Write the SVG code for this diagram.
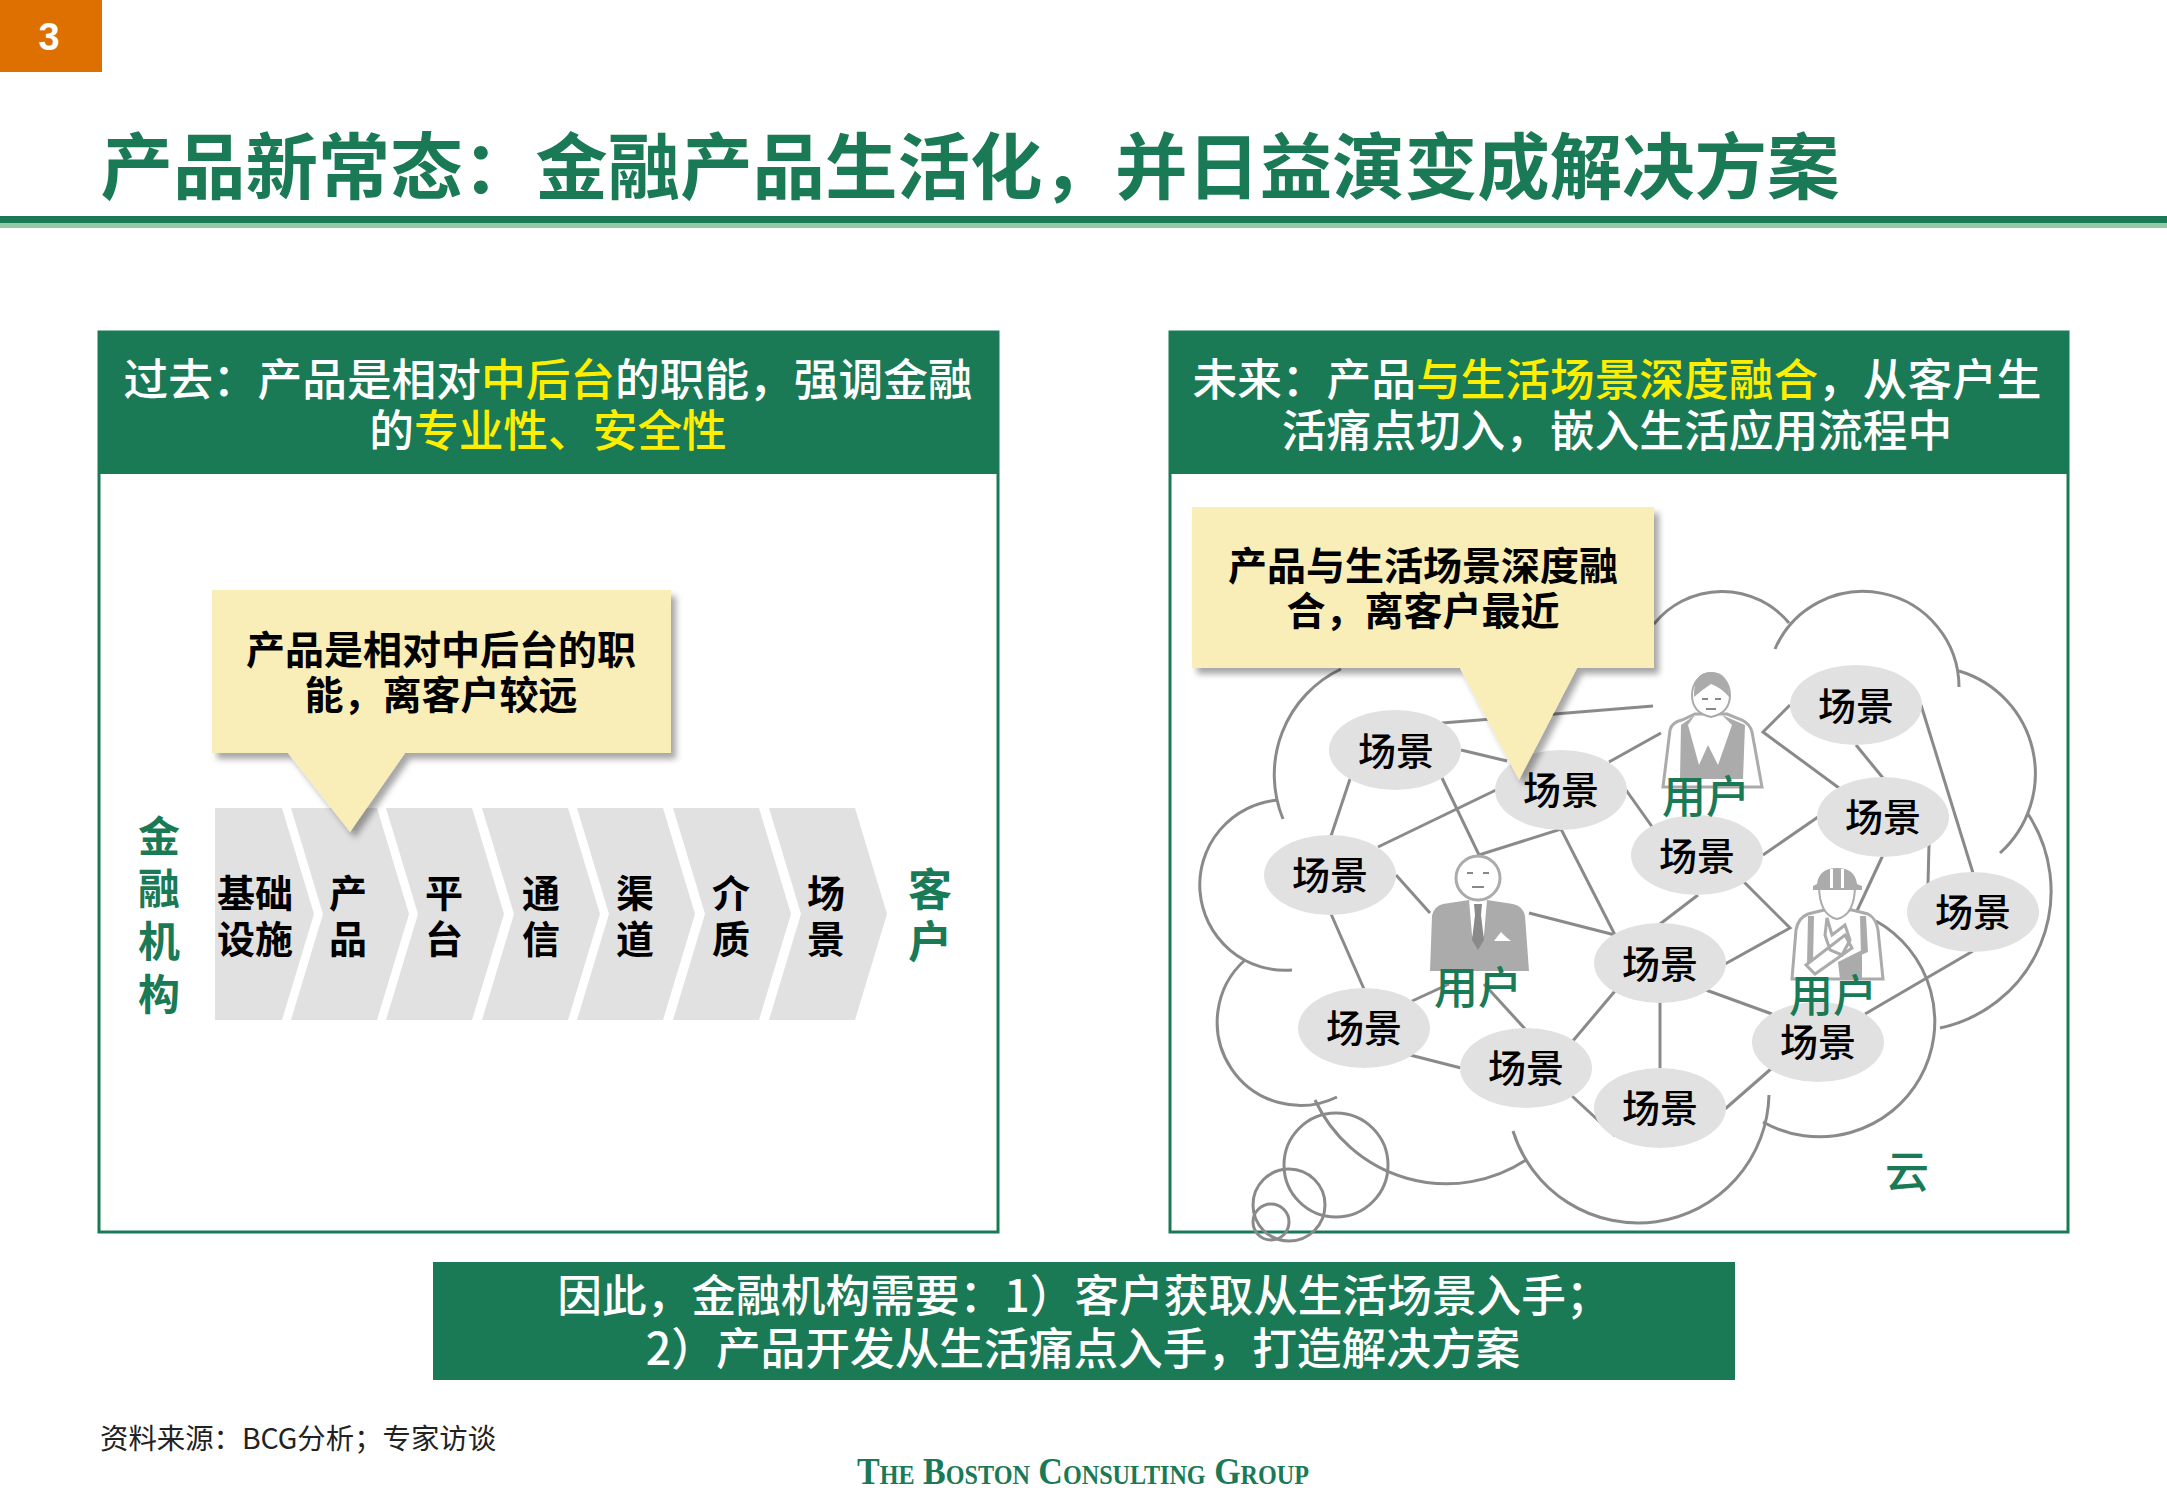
<svg xmlns="http://www.w3.org/2000/svg" width="2167" height="1500" viewBox="0 0 2167 1500">
<defs>
<filter id="sh" x="-10%" y="-10%" width="125%" height="125%"><feDropShadow dx="5" dy="6" stdDeviation="3" flood-color="#000" flood-opacity="0.35"/></filter>
</defs>
<style>
text{font-family:"Noto Sans CJK SC","Liberation Sans",sans-serif;text-anchor:middle}
.hd{font-size:44.7px;fill:#fff;font-weight:500}
.hl{fill:#FFEE00}
.cb{font-size:39px;font-weight:700;fill:#000}
.ch{font-size:38px;font-weight:700;fill:#000}
.gr{fill:#1A7A56;font-weight:700}
.el{fill:#E1E1E1}
.sc{font-size:38px;fill:#000;font-weight:500}
.us{font-size:44px;fill:#1A7A56;font-weight:500}
.cv{fill:#E1E1E1}
.ln{fill:none;stroke:#8A8A8A;stroke-width:3}
.cl{fill:none;stroke:#8A8A8A;stroke-width:3}
.pn{fill:#fff;stroke:#1A7A56;stroke-width:3}
.hb{fill:#1A7A56}
.co{fill:#F9EDB8}
.fg{fill:#ABABAB}
.fo{fill:#fff;stroke:#ABABAB;stroke-width:3}
</style>
<rect width="2167" height="1500" fill="#fff"/>

<g id="page-number"><rect x="0" y="0" width="102" height="72" fill="#DD7000"/><text x="49" y="50" font-size="38" font-weight="700" fill="#fff" style="font-family:'Liberation Sans',sans-serif">3</text></g>
<g id="title"><text x="970" y="193" font-size="72" class="gr" textLength="1739" lengthAdjust="spacingAndGlyphs">产品新常态：金融产品生活化，并日益演变成解决方案</text>
<rect x="0" y="216" width="2167" height="7" fill="#1A7A56"/><rect x="0" y="223" width="2167" height="5" fill="#93C9A5"/></g>

<g id="panel-left"><rect class="pn" x="99" y="332" width="899" height="900"/><rect class="hb" x="99" y="332" width="899" height="142"/>
<text class="hd" x="548" y="396">过去：产品是相对<tspan class="hl">中后台</tspan>的职能，强调金融</text>
<text class="hd" x="548" y="447">的<tspan class="hl">专业性、安全性</tspan></text></g>

<g id="panel-right"><rect class="pn" x="1170" y="332" width="898" height="900"/><rect class="hb" x="1170" y="332" width="898" height="142"/>
<text class="hd" x="1617" y="396">未来：产品<tspan class="hl">与生活场景深度融合</tspan>，从客户生</text>
<text class="hd" x="1617" y="447">活痛点切入，嵌入生活应用流程中</text></g>

<g id="chain">
<g id="chev-1"><path class="cv" d="M215 808H282L314 914L282 1020H215Z"/><text class="ch" x="255" y="907">基础</text><text class="ch" x="255" y="953">设施</text></g>
<g id="chev-2"><path class="cv" d="M291 808H377L409 914L377 1020H291L323 914Z"/><text class="ch" x="348" y="907">产</text><text class="ch" x="348" y="953">品</text></g>
<g id="chev-3"><path class="cv" d="M386 808H472L504 914L472 1020H386L418 914Z"/><text class="ch" x="444" y="907">平</text><text class="ch" x="444" y="953">台</text></g>
<g id="chev-4"><path class="cv" d="M482 808H568L600 914L568 1020H482L514 914Z"/><text class="ch" x="541" y="907">通</text><text class="ch" x="541" y="953">信</text></g>
<g id="chev-5"><path class="cv" d="M577 808H663L695 914L663 1020H577L609 914Z"/><text class="ch" x="635" y="907">渠</text><text class="ch" x="635" y="953">道</text></g>
<g id="chev-6"><path class="cv" d="M673 808H759L791 914L759 1020H673L705 914Z"/><text class="ch" x="731" y="907">介</text><text class="ch" x="731" y="953">质</text></g>
<g id="chev-7"><path class="cv" d="M769 808H855L887 914L855 1020H769L801 914Z"/><text class="ch" x="826" y="907">场</text><text class="ch" x="826" y="953">景</text></g>
</g>
<g id="label-bank"><text class="gr" font-size="42" x="159" y="852">金</text><text class="gr" font-size="42" x="159" y="904">融</text><text class="gr" font-size="42" x="159" y="957">机</text><text class="gr" font-size="42" x="159" y="1010">构</text></g>
<g id="label-client"><text class="gr" font-size="44" x="930" y="906">客</text><text class="gr" font-size="44" x="930" y="958">户</text></g>

<g id="callout-left"><path class="co" filter="url(#sh)" d="M212 590H671V753H405L350 832L288 753H212Z"/>
<text class="cb" x="441" y="664">产品是相对中后台的职</text><text class="cb" x="441" y="709">能，离客户较远</text></g>

<g id="cloud">
<path class="cl" d="M1654 624A87 87 0 0 1 1789 623"/>
<path class="cl" d="M1775 649A96 96 0 0 1 1959 687"/>
<path class="cl" d="M1959 671A107 107 0 0 1 2000 853"/>
<path class="cl" d="M2028 814A140 140 0 0 1 1940 1028"/>
<path class="cl" d="M1876 921A113 113 0 1 1 1763 1122"/>
<path class="cl" d="M1769 1095A131 131 0 0 1 1513 1131"/>
<path class="cl" d="M1526 1160A145 145 0 0 1 1315 1100"/>
<path class="cl" d="M1337 1097A83.3 83.3 0 0 1 1245 960"/>
<path class="cl" d="M1292 970A85 85 0 0 1 1278 800"/>
<path class="cl" d="M1283 819A117 117 0 0 1 1341 669"/>
<circle class="cl" cx="1336" cy="1165" r="52"/><circle class="cl" cx="1289" cy="1205" r="36"/><circle class="cl" cx="1271" cy="1222" r="18"/>
</g>

<g id="connectors">
<path class="ln" d="M1442 723L1653 706"/><path class="ln" d="M1461 750L1507 761"/><path class="ln" d="M1350 779L1331 836"/>
<path class="ln" d="M1442 778L1479 855L1561 829L1615 935"/><path class="ln" d="M1496 790L1378 847"/>
<path class="ln" d="M1609 762L1661 733"/><path class="ln" d="M1626 790L1653 828"/><path class="ln" d="M1396 875L1430 913"/>
<path class="ln" d="M1331 914L1364 989"/><path class="ln" d="M1529 913L1615 935"/><path class="ln" d="M1410 1002L1449 984"/>
<path class="ln" d="M1484 984L1526 1030"/><path class="ln" d="M1410 1055L1461 1068"/><path class="ln" d="M1572 1042L1615 991"/>
<path class="ln" d="M1572 1096L1615 1136"/><path class="ln" d="M1660 1002V1068"/><path class="ln" d="M1725 1109L1772 1068"/>
<path class="ln" d="M1706 990L1772 1014"/><path class="ln" d="M1660 924L1698 895"/><path class="ln" d="M1744 882L1790 928L1725 964"/>
<path class="ln" d="M1763 855L1818 817"/><path class="ln" d="M1790 705L1763 732L1839 788"/><path class="ln" d="M1856 745L1883 778"/>
<path class="ln" d="M1921 705L1973 873"/><path class="ln" d="M1929 844L1928 884"/><path class="ln" d="M1883 855L1856 913"/>
<path class="ln" d="M1973 951L1865 1014"/>
</g>

<g id="scene-1"><ellipse class="el" cx="1395" cy="750" rx="66" ry="40"/><text class="sc" x="1396" y="765">场景</text></g>
<g id="scene-2"><ellipse class="el" cx="1561" cy="790" rx="66" ry="40"/><text class="sc" x="1561" y="804">场景</text></g>
<g id="scene-3"><ellipse class="el" cx="1856" cy="705" rx="66" ry="40"/><text class="sc" x="1856" y="720">场景</text></g>
<g id="scene-4"><ellipse class="el" cx="1883" cy="817" rx="66" ry="40"/><text class="sc" x="1883" y="831">场景</text></g>
<g id="scene-5"><ellipse class="el" cx="1697" cy="855" rx="66" ry="40"/><text class="sc" x="1697" y="870">场景</text></g>
<g id="scene-6"><ellipse class="el" cx="1330" cy="875" rx="66" ry="40"/><text class="sc" x="1330" y="889">场景</text></g>
<g id="scene-7"><ellipse class="el" cx="1973" cy="912" rx="66" ry="40"/><text class="sc" x="1973" y="926">场景</text></g>
<g id="scene-8"><ellipse class="el" cx="1660" cy="963" rx="66" ry="40"/><text class="sc" x="1660" y="978">场景</text></g>
<g id="scene-9"><ellipse class="el" cx="1364" cy="1028" rx="66" ry="40"/><text class="sc" x="1364" y="1042">场景</text></g>
<g id="scene-10"><ellipse class="el" cx="1526" cy="1068" rx="66" ry="40"/><text class="sc" x="1526" y="1082">场景</text></g>
<g id="scene-11"><ellipse class="el" cx="1660" cy="1108" rx="66" ry="40"/><text class="sc" x="1660" y="1122">场景</text></g>
<g id="scene-12"><ellipse class="el" cx="1818" cy="1042" rx="66" ry="40"/><text class="sc" x="1818" y="1056">场景</text></g>

<g id="user-man">
<circle cx="1478" cy="878" r="22" fill="#fff" stroke="#ABABAB" stroke-width="3"/>
<path fill="#888" d="M1467 872h6v2h-6zM1483 872h6v2h-6zM1472 886h12v2h-12z"/>
<path class="fg" d="M1430 971L1432 916Q1434 906 1443 904L1469 900L1478 910L1487 900L1513 904Q1523 906 1525 916L1529 971Z"/>
<path fill="#fff" d="M1469 900L1478 908L1487 900L1484 935L1478 948L1472 935Z"/>
<path fill="#8A8A8A" d="M1474 904H1482L1481 915L1484 940L1478 950L1472 940L1475 915Z"/>
<path fill="#fff" d="M1494 941L1501 932L1506 937L1511 941Z"/>
<text class="us" x="1478" y="1004">用户</text>
</g>
<g id="user-woman">
<path class="fo" d="M1663 787L1670 730Q1672 722 1682 720L1695 714H1727L1742 720Q1750 724 1752 732L1762 787Z"/>
<path class="fg" d="M1681 725L1695 715L1708 745L1722 715L1745 725L1743 779H1680Z"/>
<path fill="#fff" d="M1695 715L1708 736L1722 715L1732 725L1718 765L1708 745L1699 765L1688 725Z"/>
<path fill="#fff" stroke="#ABABAB" stroke-width="2" d="M1692 695a19 22 0 0 1 38 0q0 18 -19 22q-19 -4 -19 -22Z"/>
<path class="fg" d="M1694 697Q1693 672 1711 672Q1730 672 1729 697Q1722 688 1711 684Q1702 690 1694 697Z"/>
<path fill="#888" d="M1702 698h6v2h-6zM1715 698h6v2h-6zM1706 708h10v2h-10z"/>
<text class="us" x="1706" y="813">用户</text>
</g>
<g id="user-worker">
<path class="fo" d="M1792 979L1796 930Q1798 918 1808 914L1824 910H1852L1868 914Q1876 918 1878 930L1883 979Z"/>
<path fill="#fff" stroke="#ABABAB" stroke-width="2" d="M1819 885q0 30 18 34q18 -4 18 -34Z"/>
<path class="fg" d="M1817 884Q1819 868 1837 868Q1855 868 1857 884L1862 886V890H1813V886Z"/>
<path fill="#fff" d="M1830 869h3v19h-3zM1841 869h3v19h-3z"/>
<path class="fg" d="M1808 916L1814 916L1813 962L1807 965ZM1866 916L1860 916L1861 955L1868 952Z"/>
<path fill="#fff" stroke="#ABABAB" stroke-width="3" d="M1806 965L1845 935L1852 948L1815 974ZM1827 918L1832 935L1845 925L1850 940L1842 955L1830 950L1825 935Z"/>
<path class="fg" d="M1838 962L1862 950L1862 979H1840Z"/>
<text class="us" x="1833" y="1012">用户</text>
</g>
<g id="label-cloud"><text class="us" x="1907" y="1188">云</text></g>

<g id="callout-right"><path class="co" filter="url(#sh)" d="M1192 507H1654V668H1577L1519 780L1460 668H1192Z"/>
<text class="cb" x="1423" y="580">产品与生活场景深度融</text><text class="cb" x="1423" y="625">合，离客户最近</text></g>

<g id="conclusion"><rect class="hb" x="433" y="1262" width="1302" height="118"/>
<text class="hd" x="1084" y="1312">因此，金融机构需要：1）客户获取从生活场景入手；</text>
<text class="hd" x="1083" y="1365">2）产品开发从生活痛点入手，打造解决方案</text></g>

<g id="footer">
<text x="100" y="1449" font-size="28.4" fill="#222" style="text-anchor:start">资料来源：BCG分析；专家访谈</text>
<text x="1083" y="1484" font-size="38" fill="#1A7A56" font-weight="700" textLength="452" lengthAdjust="spacingAndGlyphs" style="font-family:'Liberation Serif',serif;font-variant:small-caps">The Boston Consulting Group</text>
</g>
</svg>
